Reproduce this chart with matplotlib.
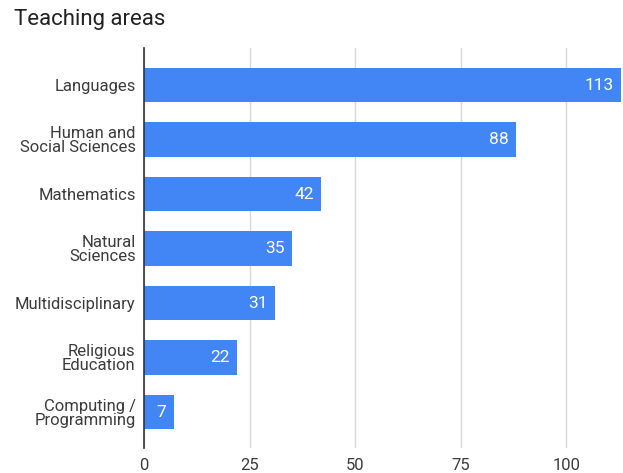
import matplotlib
matplotlib.use('Agg')
import matplotlib.pyplot as plt

categories = ['Languages', 'Human and\nSocial Sciences', 'Mathematics', 'Natural\nSciences',
              'Multidisciplinary', 'Religious\nEducation', 'Computing /\nProgramming']
counts = [113, 88, 42, 35, 31, 22, 7]
xticks = [0, 25, 50, 75, 100]

plt.rcParams['font.family'] = ['Roboto', 'DejaVu Sans']

fig = plt.figure(figsize=(6.23, 4.73), dpi=100)
ax = fig.add_axes([144 / 623, 25 / 473, 478 / 623, 400 / 473])

ypos = list(range(len(categories)))
bars = ax.barh(ypos, counts, height=0.63, color='#4285F4', zorder=3)

for y, v in zip(ypos, counts):
    ax.text(v - 1.7, y, str(v), ha='right', va='center', color='white', fontsize=12.5, zorder=4)

ax.set_yticks(ypos)
ax.set_yticklabels(categories, fontsize=12, color='#3c3c3c', linespacing=0.95)
ax.set_ylim(len(categories) - 1 + 0.66, -0.68)
ax.set_xlim(0, 113.2)
ax.set_xticks(xticks)
ax.set_xticklabels([str(t) for t in xticks], fontsize=12, color='#3c3c3c')

ax.grid(axis='x', color='#d9d9d9', lw=1, zorder=0)
for s in ['top', 'right', 'bottom']:
    ax.spines[s].set_visible(False)
ax.spines['left'].set_color('#333333')
ax.spines['left'].set_linewidth(1.2)
ax.spines['left'].set_zorder(5)
ax.tick_params(axis='both', length=0)
ax.tick_params(axis='y', pad=6)
ax.tick_params(axis='x', pad=7)

fig.text(14 / 623, 1 - 20 / 473, 'Teaching areas', fontsize=16, color='#222222', va='center', ha='left')

fig.savefig('out.png', dpi=100)
